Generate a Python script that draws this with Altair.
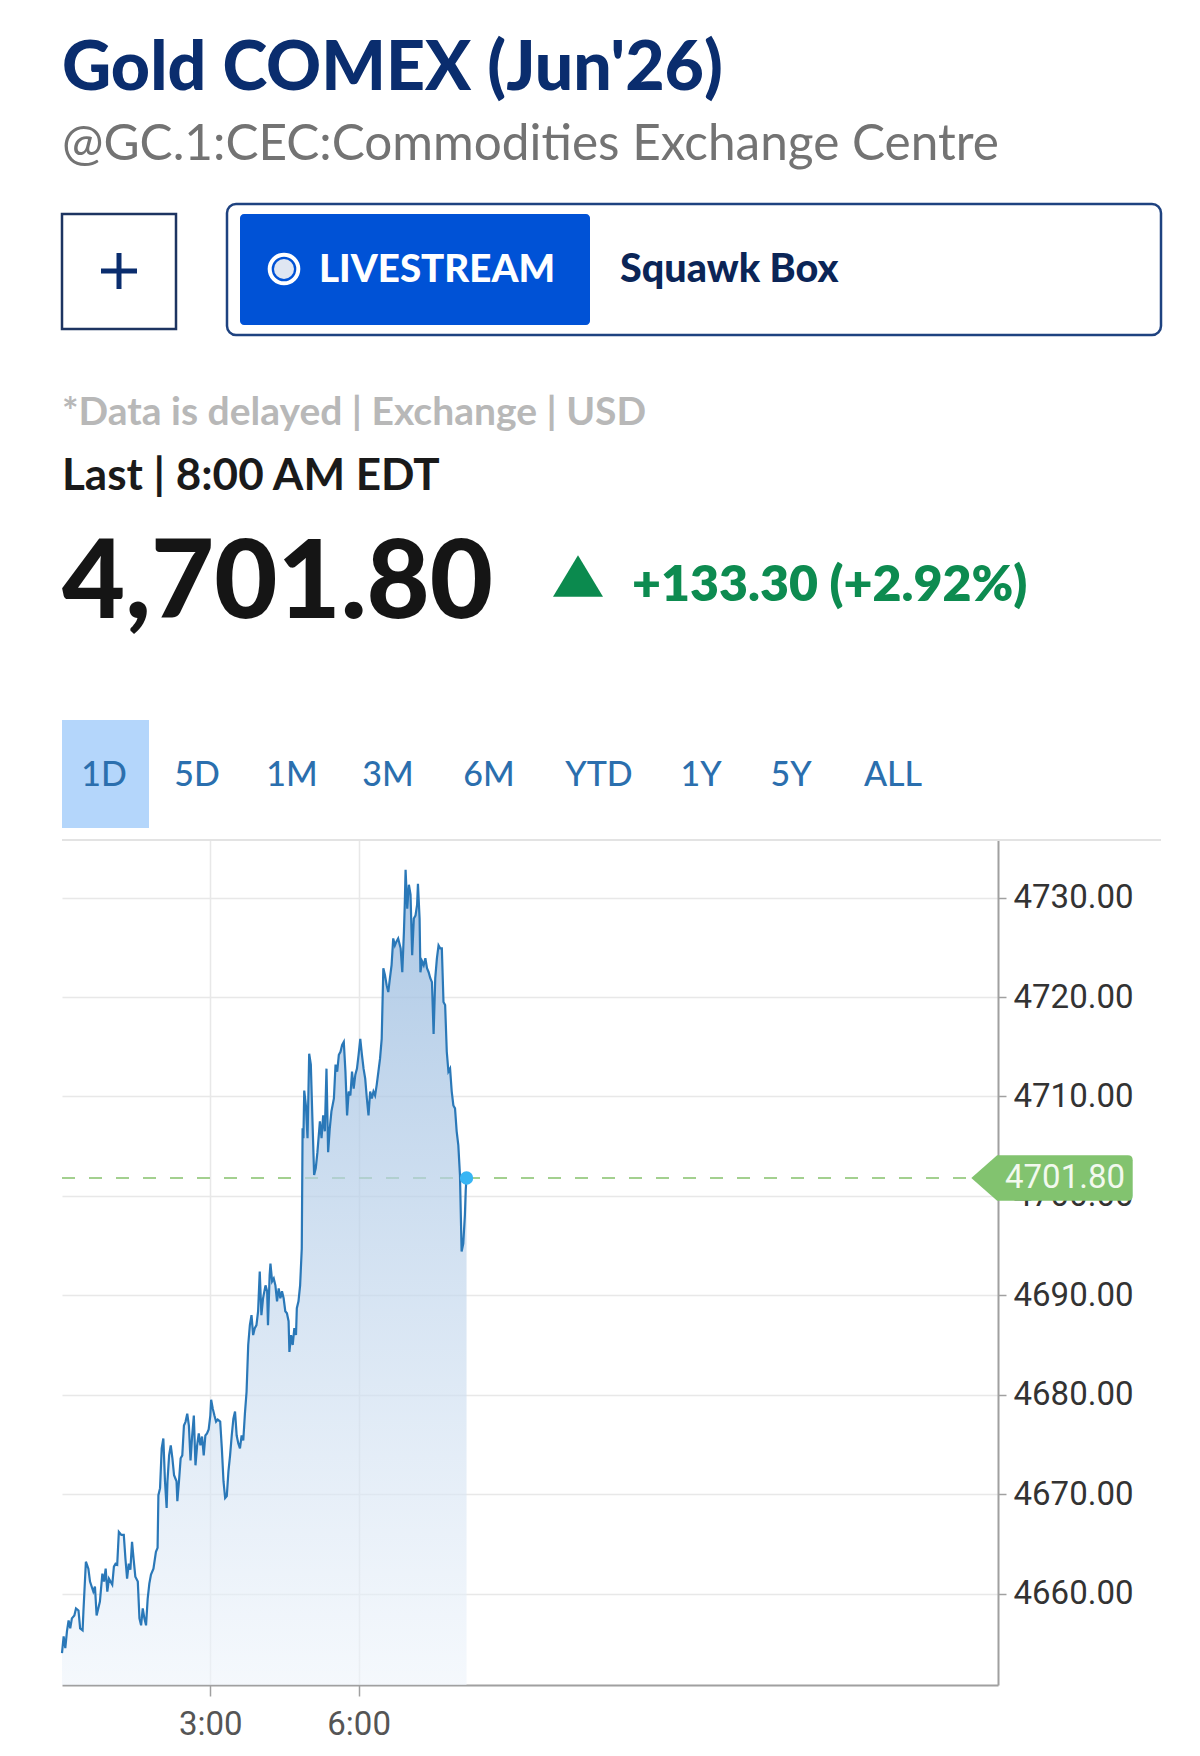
import altair as alt
import pandas as pd

# ---------------- data ----------------
minutes = [0, 2, 4, 6, 8, 10, 12, 15, 17, 20, 22, 25, 26, 29, 32, 34, 38, 40, 42, 46,
           49, 51, 53, 55, 57, 61, 63, 65, 67, 69, 72, 75, 77, 79, 81, 83, 85, 87, 89, 92,
           94, 96, 98, 100, 102, 104, 106, 108, 111, 114, 116, 117, 119, 121, 123, 125, 127, 128, 130, 132,
           134, 136, 139, 140, 142, 144, 146, 148, 150, 152, 154, 156, 158, 160, 162, 164, 166, 168, 170, 172,
           174, 176, 178, 180, 181, 183, 185, 187, 189, 192, 194, 196, 198, 200, 202, 204, 206, 208, 210, 212,
           214, 216, 218, 220, 222, 224, 226, 228, 230, 232, 234, 236, 238, 240, 242, 244, 247, 249, 250, 252,
           253, 255, 257, 259, 261, 263, 265, 267, 269, 271, 273, 275, 276, 278, 280, 282, 284, 285, 287, 289,
           291, 292, 293, 294, 296, 298, 300, 302, 304, 306, 308, 310, 313, 315, 317, 319, 321, 323, 325, 327,
           330, 332, 334, 336, 338, 340, 342, 344, 346, 348, 350, 352, 354, 356, 358, 360, 362, 364, 366, 368,
           370, 372, 374, 376, 378, 380, 382, 384, 386, 388, 390, 392, 394, 396, 398, 400, 402, 404, 406, 408,
           411, 413, 415, 416, 417, 419, 421, 423, 425, 427, 429, 431, 432, 434, 435, 437, 439, 441, 443, 445,
           447, 449, 451, 453, 455, 457, 459, 461, 463, 465, 467, 469, 471, 473, 475, 477, 479, 481, 483, 485,
           487, 489, 490, 491]
prices = [4654.0, 4655.7, 4654.5, 4656.2, 4657.3, 4656.5, 4657.5, 4657.8, 4658.5, 4658.3, 4656.5, 4656.3, 4658.2, 4663.2, 4662.5, 4661.2, 4660.2, 4660.7, 4657.8, 4659.2,
          4662.0, 4661.2, 4662.5, 4660.2, 4661.5, 4660.9, 4662.7, 4663.0, 4662.9, 4666.2, 4665.9, 4665.9, 4663.5, 4661.5, 4663.0, 4662.4, 4665.2, 4663.4, 4661.7, 4661.2,
          4657.5, 4656.8, 4658.5, 4657.5, 4656.8, 4659.5, 4661.0, 4661.9, 4662.5, 4664.2, 4664.6, 4669.9, 4670.6, 4674.6, 4675.6, 4671.3, 4668.6, 4671.3, 4673.9, 4674.9,
          4673.6, 4671.9, 4671.3, 4669.3, 4671.3, 4673.6, 4673.9, 4676.9, 4677.3, 4678.1, 4676.9, 4673.4, 4675.9, 4677.9, 4672.9, 4674.9, 4676.1, 4674.9, 4675.8, 4673.9,
          4675.9, 4676.1, 4676.5, 4677.9, 4679.5, 4678.6, 4677.9, 4677.3, 4677.5, 4677.3, 4674.6, 4671.3, 4669.6, 4669.8, 4672.3, 4673.9, 4675.9, 4677.6, 4678.3, 4675.9,
          4675.1, 4674.6, 4675.9, 4675.4, 4678.1, 4680.3, 4685.0, 4687.0, 4688.0, 4686.0, 4686.7, 4687.0, 4688.4, 4692.4, 4688.0, 4689.7, 4691.0, 4690.4, 4687.0, 4692.0,
          4693.2, 4691.4, 4691.7, 4691.0, 4689.4, 4690.7, 4689.7, 4690.4, 4689.7, 4688.4, 4688.2, 4687.4, 4684.3, 4686.0, 4685.0, 4686.7, 4686.0, 4688.7, 4689.4, 4691.0,
          4694.7, 4706.8, 4705.8, 4710.6, 4709.1, 4705.8, 4714.3, 4713.2, 4707.5, 4702.1, 4702.8, 4704.4, 4707.5, 4705.8, 4708.1, 4706.5, 4712.8, 4704.4, 4706.8, 4708.5,
          4709.8, 4713.2, 4712.5, 4714.2, 4714.5, 4715.2, 4715.5, 4712.5, 4708.1, 4710.5, 4710.1, 4712.5, 4710.8, 4712.2, 4712.8, 4714.2, 4715.8, 4714.2, 4712.8, 4711.8,
          4709.8, 4708.1, 4710.5, 4709.8, 4710.5, 4710.1, 4711.2, 4712.5, 4713.8, 4715.8, 4722.9, 4722.2, 4721.2, 4720.5, 4721.9, 4723.2, 4725.9, 4725.2, 4725.6, 4725.9,
          4724.9, 4722.5, 4726.6, 4729.3, 4732.8, 4728.9, 4731.3, 4730.3, 4724.2, 4727.9, 4728.2, 4729.3, 4731.4, 4727.9, 4722.5, 4723.6, 4723.2, 4723.9, 4722.9, 4722.5,
          4721.9, 4721.5, 4716.3, 4721.9, 4723.9, 4725.2, 4724.9, 4724.9, 4719.5, 4719.2, 4714.5, 4712.5, 4712.8, 4710.5, 4709.1, 4708.8, 4706.5, 4705.1, 4702.1, 4694.4,
          4695.2, 4698.1, 4700.6, 4701.8]

y_ticks = [4660, 4670, 4680, 4690, 4700, 4710, 4720, 4730]
x_ticks = [180, 360]          # 3:00 and 6:00 (minutes after midnight)
x_domain = [0, 1136]
y_domain = [4650.8, 4735.8]

tabs = ["1D", "5D", "1M", "3M", "6M", "YTD", "1Y", "5Y", "ALL"]
title_text = "Gold COMEX (Jun'26)"
subtitle_text = "@GC.1:CEC:Commodities Exchange Centre"
delayed_text = "*Data is delayed | Exchange | USD"
last_text = "Last | 8:00 AM EDT"
price_text = "4,701.80"
change_text = "+133.30 (+2.92%)"
live_text = "LIVESTREAM"
show_text = "Squawk Box"

# ---------------- layout constants ----------------
W, H = 936, 845
TAB_X = [42, 135, 230, 326, 427, 537, 639, 729, 831]
NAVY = "#0a2d6e"

df = pd.DataFrame({"minute": minutes, "price": prices})
last = df.tail(1)
dummy = pd.DataFrame({"k": [0]})

xs = alt.Scale(domain=x_domain, nice=False, zero=False)
ys = alt.Scale(domain=y_domain, nice=False, zero=False)

x_axis = alt.Axis(values=x_ticks, labelExpr="floor(datum.value/60) + ':00'", grid=True,
                  gridColor="#e8e8e8", gridWidth=1.5, domainColor="#a0a0a0", domainWidth=2,
                  tickColor="#a0a0a0", tickWidth=1.5, tickSize=11, labelFontSize=33,
                  labelColor="#555555", labelFont="Roboto", labelPadding=12, title=None, zindex=0)
y_axis = alt.Axis(orient="right", values=y_ticks, format=".2f", grid=True, gridColor="#e8e8e8",
                  gridWidth=1.5, domainColor="#a0a0a0", domainWidth=2, tickColor="#a0a0a0",
                  tickWidth=1.5, tickSize=8, labelFontSize=33, labelColor="#333333",
                  labelFont="Roboto", labelPadding=7, title=None, zindex=0)

base = alt.Chart(df)

dash = alt.Chart(last).mark_rule(color="#a3d08f", strokeWidth=2, strokeDash=[13, 14]).encode(
    x=alt.value(0), x2=alt.value(906), y=alt.Y("price:Q", scale=ys, axis=y_axis))

area = base.mark_area(
    clip=True,
    color=alt.Gradient(gradient="linear",
                       stops=[alt.GradientStop(color="rgba(150,185,222,0.78)", offset=0),
                              alt.GradientStop(color="rgba(238,244,251,0.6)", offset=1)],
                       x1=0, x2=0, y1=0, y2=1)
).encode(x=alt.X("minute:Q", scale=xs, axis=x_axis), y=alt.Y("price:Q", scale=ys),
         y2=alt.datum(y_domain[0]))

line = base.mark_line(color="#2a78b8", strokeWidth=2.2, interpolate="linear").encode(
    x=alt.X("minute:Q", scale=xs), y=alt.Y("price:Q", scale=ys))

dot = alt.Chart(last).mark_circle(size=177, color="#37b5f4", opacity=1).encode(
    x=alt.X("minute:Q", scale=xs), y=alt.Y("price:Q", scale=ys))

tag_path = ("M -1 0 L -0.68 -0.283 L 0.94 -0.283 Q 1 -0.283 1 -0.22 L 1 0.22 "
            "Q 1 0.283 0.94 0.283 L -0.68 0.283 Z")
tag = alt.Chart(last).mark_point(shape=tag_path, size=26050, filled=True, color="#82c36f",
                                 opacity=1, strokeWidth=0).encode(
    x=alt.value(990), y=alt.Y("price:Q", scale=ys))
tag_text = alt.Chart(last).mark_text(font="Roboto", fontSize=33, color="#f2f9ee", align="center",
                                     baseline="middle").encode(
    x=alt.value(1003), y=alt.Y("price:Q", scale=ys), text=alt.Text("price:Q", format=".2f"))


def txt(s, x, y, size, color, weight="normal", font="Lato", align="left"):
    return alt.Chart(dummy).mark_text(text=s, font=font, fontSize=size, fontWeight=weight,
                                      color=color, align=align, baseline="alphabetic").encode(
        x=alt.value(x), y=alt.value(y))


def box(x, x2, y, y2, **kw):
    return alt.Chart(dummy).mark_rect(**kw).encode(
        x=alt.value(x), x2=alt.value(x2), y=alt.value(y), y2=alt.value(y2))


header = [
    txt(title_text, 0, -750, 68, NAVY, 900),
    txt(subtitle_text, 0, -680, 49.5, "#737373", 400),
    box(0, 114, -626, -511, fillOpacity=0, stroke="#1d3461", strokeWidth=2.5),
    alt.Chart(dummy).mark_rule(color=NAVY, strokeWidth=5).encode(
        x=alt.value(39), x2=alt.value(75), y=alt.value(-569)),
    alt.Chart(dummy).mark_rule(color=NAVY, strokeWidth=5).encode(
        x=alt.value(57), y=alt.value(-587), y2=alt.value(-551)),
    box(165, 1099, -636, -505, fillOpacity=0, stroke="#1e4280", strokeWidth=2.5, cornerRadius=9),
    box(178, 528, -626, -515, color="#0052d6", cornerRadius=4),
    alt.Chart(dummy).mark_circle(size=820, color="#0052d6", stroke="white", strokeWidth=4,
                                 opacity=1).encode(x=alt.value(222), y=alt.value(-571)),
    alt.Chart(dummy).mark_circle(size=400, color="#dfe6f2", opacity=1).encode(
        x=alt.value(222), y=alt.value(-571)),
    txt(live_text, 257, -558, 38.5, "white", 900),
    txt(show_text, 558, -558, 39.5, "#0b2557", 900),
    txt(delayed_text, 0, -415, 39, "#b8b8b8", 700),
    txt(last_text, 0, -350, 44, "#1a1a1a", 700),
    txt(price_text, 0, -222, 109, "#151515", 900),
    alt.Chart(dummy).mark_point(shape="M 0 -0.83 L 1 0.83 L -1 0.83 Z", size=2500, filled=True,
                                color="#0b8a4e", opacity=1, strokeWidth=0).encode(
        x=alt.value(516), y=alt.value(-264)),
    txt(change_text, 570, -239, 50, "#0d8b50", 800),
    box(0, 87, -120, -12, color="#b4d6fb"),
    alt.Chart(dummy).mark_rule(color="#e3e3e3", strokeWidth=2).encode(
        x=alt.value(0), x2=alt.value(1099), y=alt.value(0)),
]
tab_layers = [txt(t, tx, -54, 34, "#2b6fae", 500, align="center") for t, tx in zip(tabs, TAB_X)]

chart = alt.layer(dash, area, line, dot, tag, tag_text, *header, *tab_layers).properties(
    width=W, height=H,
    background="white",
    autosize=alt.AutoSizeParams(type="none"),
    padding={"left": 54, "top": 832, "right": 180, "bottom": 60},
).configure_view(stroke=None)

chart.save("out.html", embed_options={"renderer": "svg", "actions": False})
